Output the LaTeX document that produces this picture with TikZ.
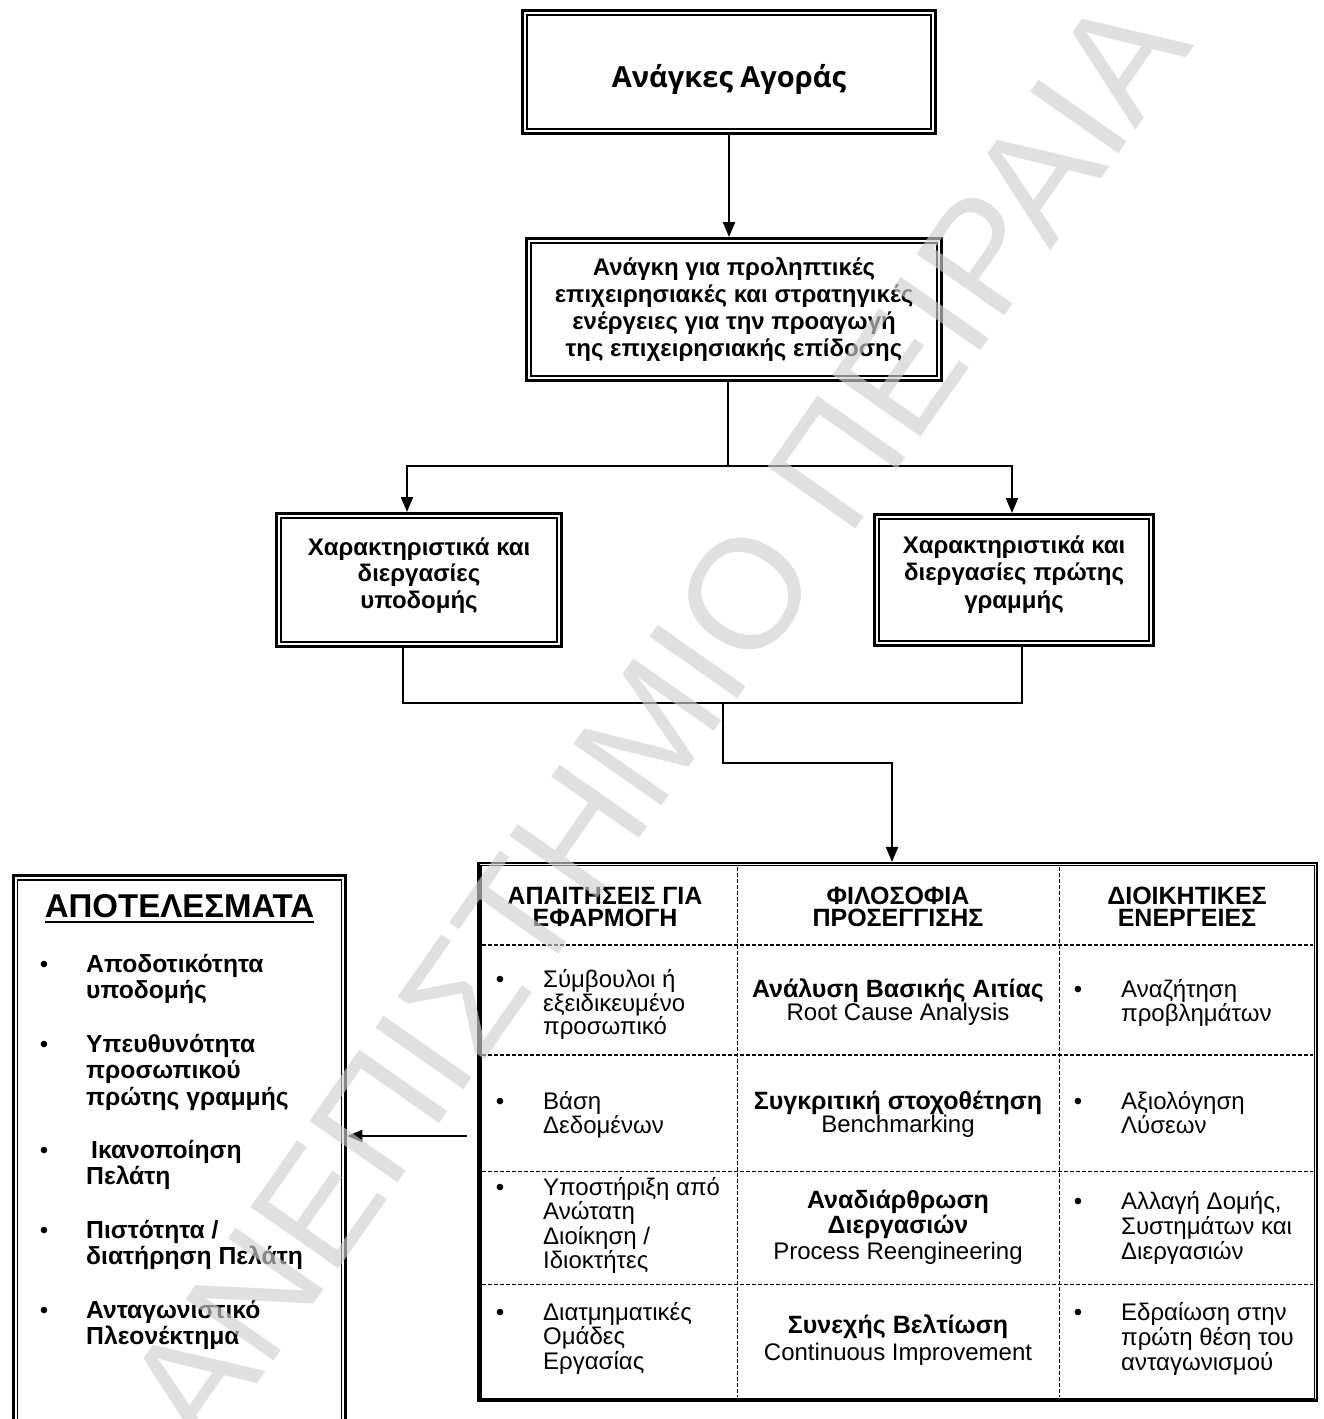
\documentclass[tikz,border=0pt]{standalone}
\usepackage{fontspec}
\setmainfont{Liberation Sans}
\newfontfamily\headfont{Open Sans}
\usetikzlibrary{arrows.meta}
\definecolor{wmgray}{RGB}{207,207,207}
\newcommand\fsz[2]{\fontsize{#1}{#2}\selectfont}
\newcommand\ctext[2]{\parbox[t]{#1}{\centering #2}}
\newcommand\ltext[2]{\parbox[t]{#1}{\raggedright #2}}
\newcommand\tb[1]{{\fontsize{25}{25}\selectfont\bfseries #1}}

\begin{document}
\begin{tikzpicture}[x=1pt,y=-1pt,
  conn/.style={line width=2.2pt},
  arr/.style={conn,-{Triangle[length=15pt,width=12pt]}},
  boxouter/.style={draw,line width=3.3pt,inner sep=0pt},
  tblouter/.style={draw,line width=2.5pt,inner sep=0pt},
  innerframe/.style={line width=1.8pt},
  tblinner/.style={line width=1.5pt},
  divider/.style={line width=1.4pt,dash pattern=on 4pt off 2pt},
  txt/.style={inner sep=0pt,anchor=base},
  ltxt/.style={inner sep=0pt,anchor=base west},
  bul/.style={inner sep=0pt,anchor=base,font=\fsz{24}{24}},
  boldtxt/.style={font=\fsz{24}{#1}\bfseries},
  regtxt/.style={font=\fsz{24}{#1}},
  headtxt/.style={font=\fsz{25}{22}\bfseries},
  listtxt/.style={font=\fsz{24.7}{26.6}\bfseries},
]
\useasboundingbox (0,0) rectangle (1324,1419);

% ---- framed boxes (thick outer line, thin inner line) ----
\node[boxouter,minimum width=412.7pt,minimum height=122.7pt] (market) at (729,72) {};
\node[boxouter,minimum width=414.7pt,minimum height=141.7pt] (need) at (734,309.5) {};
\node[boxouter,minimum width=284.7pt,minimum height=132.7pt] (infra) at (419,580) {};
\node[boxouter,minimum width=278.7pt,minimum height=130.7pt] (front) at (1014,580) {};
\node[boxouter,minimum width=332.3pt,minimum height=564.4pt] (results) at (179.5,1157.8) {};
\node[tblouter,minimum width=838.5pt,minimum height=537.5pt] (table) at (897.75,1131.95) {};

\foreach \n in {market,need,infra,front,results}
  \draw[innerframe] ([xshift=5.85pt,yshift=5.85pt]\n.south west) rectangle ([xshift=-5.85pt,yshift=-5.85pt]\n.north east);
\draw[tblinner] ([xshift=3.7pt,yshift=3.7pt]table.south west) rectangle ([xshift=-3.7pt,yshift=-3.7pt]table.north east);

% ---- box texts ----
\node[txt,font=\headfont\fsz{29}{32}\bfseries] (marketlbl) at (729,87) {Ανάγκες Αγοράς};
\node[txt,boldtxt=27.3] (needlbl) at (734,275)
  {\ctext{400pt}{Ανάγκη για προληπτικές\\επιχειρησιακές και στρατηγικές\\ενέργειες για την προαγωγή\\της επιχειρησιακής επίδοσης}};
\node[txt,boldtxt=26.7] (infralbl) at (419,555)
  {\ctext{270pt}{Χαρακτηριστικά και\\διεργασίες\\υποδομής}};
\node[txt,boldtxt=27.5] (frontlbl) at (1014,553)
  {\ctext{270pt}{Χαρακτηριστικά και\\διεργασίες πρώτης\\γραμμής}};

% ---- connectors ----
\draw[arr] (market.south) -- (market.south |- need.north);
\coordinate (split) at (728,466);
\coordinate (splitL) at (407,466);
\coordinate (splitR) at (1012,466);
\draw[conn] (split |- need.south) -- (split);
\draw[arr] (splitR) -- (splitL) -- (splitL |- infra.north);
\draw[arr] (splitL) -- (splitR) -- (splitR |- front.north);

\coordinate (joinL) at (403,703);
\coordinate (joinR) at (1022,703);
\coordinate (joinM) at (723,703);
\coordinate (bend) at (892,763);
\draw[conn] (joinL |- infra.south) -- (joinL) -- (joinR) -- (joinR |- front.south);
\draw[arr] (joinM) -- (joinM |- bend) -- (bend) -- (bend |- table.north);

\coordinate (feed) at (467,1136);
\draw[arr] (feed) -- (feed -| results.east);

% ---- table rules ----
\foreach \x in {737.3,1059.3}
  \draw[divider] (\x,866.9) -- (\x,1397);
\foreach \y in {945,1055,1171.7,1284.3}
  \draw[divider] (482.2,\y) -- (1313.3,\y);

% ---- table header ----
\node[txt,headtxt] (h1) at (605,904) {\ctext{250pt}{ΑΠΑΙΤΗΣΕΙΣ ΓΙΑ\\ΕΦΑΡΜΟΓΗ}};
\node[txt,headtxt] (h2) at (898,904) {\ctext{300pt}{ΦΙΛΟΣΟΦΙΑ\\ΠΡΟΣΕΓΓΙΣΗΣ}};
\node[txt,headtxt] (h3) at (1187,904) {\ctext{250pt}{ΔΙΟΙΚΗΤΙΚΕΣ\\ΕΝΕΡΓΕΙΕΣ}};

% ---- table row 1 ----
\node[bul] (b11) at (500,987) {•};
\node[ltxt,regtxt=20.8] (c11) at (543,987) {\ltext{190pt}{Σύμβουλοι ή\\εξειδικευμένο\\προσωπικό}};
\node[txt,regtxt=23] (c12) at (898,997) {\ctext{310pt}{\tb{Ανάλυση Βασικής Αιτίας}\\Root Cause Analysis}};
\node[bul] (b13) at (1078,997) {•};
\node[ltxt,regtxt=23] (c13) at (1121,997) {\ltext{190pt}{Αναζήτηση\\προβλημάτων}};

% ---- table row 2 ----
\node[bul] (b21) at (500,1109) {•};
\node[ltxt,regtxt=21.5] (c21) at (543,1109) {\ltext{190pt}{Βάση\\Δεδομένων}};
\node[txt,regtxt=21.5] (c22) at (898,1109) {\ctext{310pt}{\tb{Συγκριτική στοχοθέτηση}\\Benchmarking}};
\node[bul] (b23) at (1078,1109) {•};
\node[ltxt,regtxt=21.5] (c23) at (1121,1109) {\ltext{190pt}{Αξιολόγηση\\Λύσεων}};

% ---- table row 3 ----
\node[bul] (b31) at (500,1195) {•};
\node[ltxt,regtxt=24.5] (c31) at (543,1195) {\ltext{190pt}{Υποστήριξη από\\Ανώτατη\\Διοίκηση /\\Ιδιοκτήτες}};
\node[txt,regtxt=25.5] (c32) at (898,1208) {\ctext{310pt}{\tb{Αναδιάρθρωση}\\\tb{Διεργασιών}\\Process Reengineering}};
\node[bul] (b33) at (1078,1209) {•};
\node[ltxt,regtxt=25] (c33) at (1121,1209) {\ltext{190pt}{Αλλαγή Δομής,\\Συστημάτων και\\Διεργασιών}};

% ---- table row 4 ----
\node[bul] (b41) at (500,1320) {•};
\node[ltxt,regtxt=24.7] (c41) at (543,1320) {\ltext{190pt}{Διατμηματικές\\Ομάδες\\Εργασίας}};
\node[txt,regtxt=27] (c42) at (898,1333) {\ctext{310pt}{\tb{Συνεχής Βελτίωση}\\Continuous Improvement}};
\node[bul] (b43) at (1078,1320) {•};
\node[ltxt,regtxt=25] (c43) at (1121,1320) {\ltext{190pt}{Εδραίωση στην\\πρώτη θέση του\\ανταγωνισμού}};

% ---- results list ----
\node[txt,font=\fsz{33}{36}\bfseries] (restitle) at (179.5,917) {ΑΠΟΤΕΛΕΣΜΑΤΑ};
\draw[line width=2.5pt] ([yshift=-5pt]restitle.base west) -- ([yshift=-5pt]restitle.base east);

\node[bul] (rb1) at (44,972) {•};
\node[ltxt,listtxt] (r1) at (86,972) {\ltext{250pt}{Αποδοτικότητα\\υποδομής}};
\node[bul] (rb2) at (44,1052) {•};
\node[ltxt,listtxt] (r2) at (86,1052) {\ltext{250pt}{Υπευθυνότητα\\προσωπικού\\πρώτης γραμμής}};
\node[bul] (rb3) at (44,1158) {•};
\node[ltxt,listtxt] (r3) at (86,1158) {\ltext{250pt}{\hspace{5pt}Ικανοποίηση\\Πελάτη}};
\node[bul] (rb4) at (44,1238) {•};
\node[ltxt,listtxt] (r4) at (86,1238) {\ltext{250pt}{Πιστότητα /\\διατήρηση Πελάτη}};
\node[bul] (rb5) at (44,1318) {•};
\node[ltxt,listtxt] (r5) at (86,1318) {\ltext{250pt}{Ανταγωνιστικό\\Πλεονέκτημα}};

% ---- watermark lettering over everything ----
\node[rotate=55,inner sep=0pt,text=wmgray,text opacity=0.65,font=\fsz{156}{156}] (wm) at (657,720) {ΑΝΕΠΙΣΤΗΜΙΟ ΠΕΙΡΑΙΑ};
\end{tikzpicture}
\end{document}
